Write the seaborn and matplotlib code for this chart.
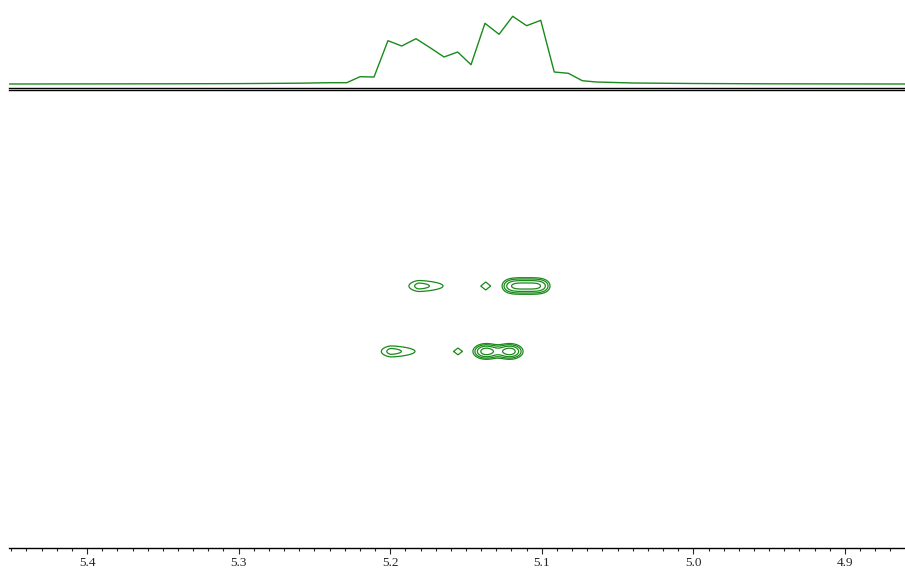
import numpy as np
import pandas as pd
import matplotlib
matplotlib.use('Agg')
import matplotlib.pyplot as plt
import seaborn as sns
from matplotlib.ticker import MultipleLocator

sns.set_style('white')
plt.rcParams['font.family'] = ['Liberation Serif', 'DejaVu Serif']

GREEN = '#1a8a1a'

# 1D projection shown above the 2D map (ppm, intensity)
proj_ppm = [5.4515, 5.35, 5.30, 5.26, 5.2397, 5.2287, 5.2199, 5.2107, 5.2015,
            5.1924, 5.1830, 5.1737, 5.1645, 5.1555, 5.1467, 5.1375, 5.1282,
            5.1192, 5.1100, 5.1007, 5.0918, 5.0825, 5.0733, 5.0640, 5.04,
            5.00, 4.95, 4.8604]
proj_int = [0.0, 0.2, 0.4, 0.8, 1.3, 1.3, 7.3, 7.0, 43.3,
            38.0, 45.3, 36.3, 27.0, 32.0, 19.3, 60.7, 49.7,
            67.7, 58.3, 63.7, 12.0, 10.7, 3.3, 2.0, 1.0,
            0.5, 0.2, 0.0]

# 2D cross peaks: position, height, widths and line-shape exponents
peak_ppm = [5.1810, 5.1370, 5.1104, 5.1995, 5.1553, 5.1368, 5.1210]
peak_hz = [4.36, 4.36, 4.36, -4.22, -4.22, -4.22, -4.22]
peak_amp = [1.6, 1.3, 3.2, 1.6, 1.3, 3.3, 3.3]
peak_wl = [0.0110, 0.0125, 0.0152, 0.0105, 0.0112, 0.0079, 0.0079]
peak_wr = [0.0262, 0.0125, 0.0152, 0.0262, 0.0112, 0.0079, 0.0079]
peak_wy = [1.05, 2.0, 1.01, 1.05, 1.7, 0.94, 0.94]
peak_px = [1.5, 1, 4, 1.5, 1, 2, 2]
peak_py = [2, 1, 2, 2, 1, 2, 2]
peak_group = [0, 1, 2, 3, 4, 5, 5]
levels = [1.0, 1.4, 1.96, 2.74]

xlim = (5.4515, 4.8604)

# Build the 2D intensity surface
gx = np.linspace(5.05, 5.26, 1400)
gy = np.linspace(-12, 12, 600)
X, Y = np.meshgrid(gx, gy)
Z = np.zeros_like(X)
for g in sorted(set(peak_group)):
    s = np.zeros_like(X)
    for i in range(len(peak_ppm)):
        if peak_group[i] != g:
            continue
        dx = X - peak_ppm[i]
        # ppm axis is reversed: left of the peak on screen = larger ppm
        wx = np.where(dx > 0, peak_wl[i], peak_wr[i])
        dy = Y - peak_hz[i]
        s += peak_amp[i] * np.exp(-(np.abs(dx) / wx) ** peak_px[i]
                                  - (np.abs(dy) / peak_wy[i]) ** peak_py[i])
    Z = np.maximum(Z, s)

fig = plt.figure(figsize=(9.05, 5.70), dpi=100)
ax = fig.add_axes([0.00994, 0.0386, 0.99006, 0.80263])
ax_top = fig.add_axes([0.00994, 0.84561, 0.99006, 0.15439], sharex=ax)

# top trace
df_proj = pd.DataFrame({'ppm': proj_ppm, 'intensity': proj_int})
sns.lineplot(data=df_proj, x='ppm', y='intensity', ax=ax_top, color=GREEN,
             linewidth=1.0, sort=False, estimator=None)
ax_top.set_ylim(-4, 84)
ax_top.set_xlabel('')
ax_top.set_ylabel('')
ax_top.tick_params(left=False, bottom=False, labelleft=False, labelbottom=False)
for side in ['top', 'left', 'right']:
    ax_top.spines[side].set_visible(False)
ax_top.spines['bottom'].set_color('black')
ax_top.spines['bottom'].set_linewidth(1.0)
ax_top.patch.set_alpha(0)

# contour map
ax.contour(X, Y, Z, levels=levels, colors=GREEN, linewidths=0.9)
ax.set_xlim(*xlim)
ax.set_ylim(-30, 30)
for side in ['left', 'right']:
    ax.spines[side].set_visible(False)
for side in ['top', 'bottom']:
    ax.spines[side].set_color('black')
    ax.spines[side].set_linewidth(1.0)
ax.xaxis.set_major_locator(MultipleLocator(0.1))
ax.xaxis.set_minor_locator(MultipleLocator(0.01))
ax.xaxis.set_major_formatter(matplotlib.ticker.FormatStrFormatter('%.1f'))
ax.tick_params(axis='x', which='major', direction='out', length=4, width=0.8,
               pad=2.5, labelsize=9.5, bottom=True, top=False)
ax.tick_params(axis='x', which='minor', direction='out', length=2.5, width=0.8,
               bottom=True, top=False)
ax.tick_params(axis='y', left=False, labelleft=False)
ax.set_xlabel('')
ax.set_ylabel('')

fig.savefig('out.png', dpi=100)
